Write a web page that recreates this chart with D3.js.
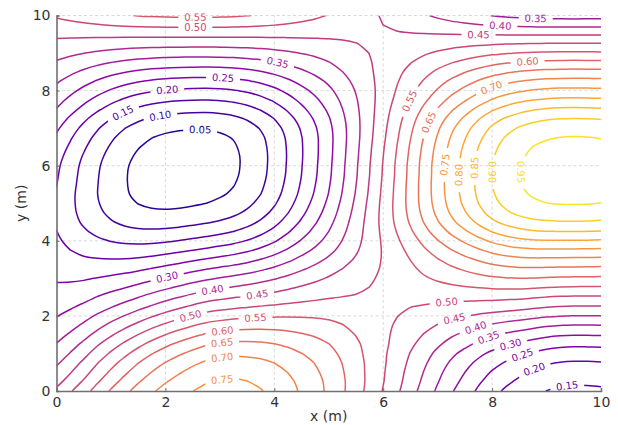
<!DOCTYPE html>
<html>
<head>
<meta charset="UTF-8">
<title>Contour map</title>
<script src="https://d3js.org/d3.v7.min.js"></script>
<style>
  body { margin: 0; background: #fff; }
  text { font-family: "DejaVu Sans", sans-serif; }
</style>
</head>
<body>
<script>
// sample positions (m), 0.25 m apart
var xValues = [0, 0.25, 0.5, 0.75, 1, 1.25, 1.5, 1.75, 2, 2.25, 2.5, 2.75, 3, 3.25, 3.5, 3.75, 4, 4.25, 4.5, 4.75,
               5, 5.25, 5.5, 5.75, 6, 6.25, 6.5, 6.75, 7, 7.25, 7.5, 7.75, 8, 8.25, 8.5, 8.75, 9, 9.25, 9.5, 9.75, 10];
var yValues = xValues.slice();

// field, kept as profiles:
// z = 0.5 + yOffset + xProfile * yProfile + xSkew * ySkew
var xProfile = [-0.291, -0.328, -0.363, -0.395, -0.423, -0.446, -0.463, -0.474, -0.480, -0.482, -0.481,
                -0.478, -0.471, -0.460, -0.442, -0.417, -0.385, -0.346, -0.303, -0.259, -0.212,
                -0.160, -0.107, -0.052, 0.003, 0.058, 0.114, 0.170, 0.224, 0.275, 0.320,
                0.363, 0.401, 0.429, 0.450, 0.464, 0.472, 0.476, 0.477, 0.476, 0.473];
var yProfile = [-0.639, -0.606, -0.568, -0.522, -0.462, -0.388, -0.303, -0.211, -0.111, -0.013, 0.080,
                0.177, 0.271, 0.365, 0.463, 0.565, 0.665, 0.760, 0.843, 0.905, 0.948,
                0.975, 0.989, 0.995, 0.997, 0.991, 0.978, 0.956, 0.919, 0.860, 0.780,
                0.690, 0.599, 0.505, 0.406, 0.302, 0.196, 0.089, -0.020, -0.132, -0.240];
var yOffset = [-0.055, -0.055, -0.056, -0.056, -0.056, -0.054, -0.053, -0.051, -0.048, -0.046, -0.044,
               -0.040, -0.037, -0.035, -0.032, -0.027, -0.020, -0.012, -0.005, -0.001, 0.001,
               0.001, 0.001, 0.000, 0.000, -0.001, -0.002, -0.004, -0.006, -0.009, -0.013,
               -0.018, -0.022, -0.025, -0.028, -0.032, -0.036, -0.040, -0.045, -0.051, -0.056];
var xSkew = [-0.171, -0.160, -0.146, -0.128, -0.110, -0.092, -0.073, -0.054, -0.036, -0.019, -0.003,
             0.011, 0.021, 0.029, 0.035, 0.041, 0.046, 0.051, 0.055, 0.058, 0.060,
             0.060, 0.058, 0.056, 0.054, 0.051, 0.047, 0.044, 0.040, 0.036, 0.033,
             0.029, 0.026, 0.022, 0.018, 0.012, 0.006, 0.002, 0, 0, 0];
var ySkew = [1.0, 1.09, 1.15, 1.19, 1.21, 1.21, 1.19, 1.15, 1.09, 1.03, 0.96,
             0.89, 0.815, 0.73, 0.64, 0.545, 0.46, 0.385, 0.315, 0.245, 0.18,
             0.12, 0.07, 0.03, 0, -0.045, -0.095, -0.145, -0.185, -0.21, -0.22,
             -0.21, -0.19, -0.16, -0.125, -0.09, -0.055, -0.02, 0.005, 0.025, 0.045];

var levels = [0.05, 0.10, 0.15, 0.20, 0.25, 0.30, 0.35, 0.40, 0.45, 0.50,
              0.55, 0.60, 0.65, 0.70, 0.75, 0.80, 0.85, 0.90, 0.95];
var tickValues = [0, 2, 4, 6, 8, 10];

// where the inline labels sit: [level, x, y]
var labelSpots = [
    [0.05, 2.64, 7.0], [0.10, 1.90, 7.38], [0.15, 1.22, 7.40], [0.20, 2.03, 8.10],
    [0.25, 3.06, 8.39], [0.35, 4.07, 8.81], [0.30, 2.03, 3.04], [0.40, 2.86, 2.74],
    [0.45, 3.67, 2.74], [0.50, 2.45, 2.05], [0.55, 3.65, 2.08], [0.60, 3.04, 1.68],
    [0.65, 3.04, 1.30], [0.70, 3.04, 0.91], [0.75, 3.04, 0.32],
    [0.55, 2.55, 9.96], [0.50, 2.55, 9.69],
    [0.55, 6.44, 7.75], [0.60, 8.65, 8.81], [0.65, 6.83, 7.16], [0.70, 7.97, 8.15],
    [0.75, 7.14, 6.02], [0.80, 7.42, 5.75], [0.85, 7.66, 5.94], [0.90, 8.03, 5.83],
    [0.95, 8.49, 5.83],
    [0.45, 7.75, 9.48], [0.40, 8.15, 9.72], [0.35, 8.80, 9.91],
    [0.50, 7.18, 2.08], [0.45, 7.35, 1.62], [0.40, 7.75, 1.46], [0.35, 7.99, 1.20],
    [0.30, 8.37, 1.07], [0.25, 8.60, 0.77], [0.20, 8.80, 0.48], [0.15, 9.38, 0.11]
];

var width = 618, height = 425;
var margin = { left: 56.5, right: 17, top: 15.5, bottom: 34 };

var x = d3.scaleLinear().domain([0, 10]).range([margin.left, width - margin.right]);
var y = d3.scaleLinear().domain([0, 10]).range([height - margin.bottom, margin.top]);
var color = d3.scaleSequential(d3.interpolatePlasma).domain([0, 1]);

var svg = d3.select("body").append("svg")
    .attr("width", width)
    .attr("height", height)
    .style("background", "#fff");

// grid
var grid = svg.append("g").attr("class", "grid");
grid.selectAll(".gx").data(tickValues.slice(1, -1)).enter().append("line")
    .attr("x1", function (d) { return x(d); }).attr("x2", function (d) { return x(d); })
    .attr("y1", y(0)).attr("y2", y(10));
grid.selectAll(".gy").data(tickValues.slice(1)).enter().append("line")
    .attr("x1", x(0)).attr("x2", x(10))
    .attr("y1", function (d) { return y(d); }).attr("y2", function (d) { return y(d); });
grid.selectAll("line")
    .attr("stroke", "#cfcfcf")
    .attr("stroke-width", 0.8)
    .attr("stroke-dasharray", "3,2.5");

// value table for d3.contours (row 0 = first y value)
var nx = xValues.length, ny = yValues.length;
var step = xValues[1] - xValues[0];
var values = new Array(nx * ny);
for (var j = 0; j < ny; j++) {
    for (var i = 0; i < nx; i++) {
        values[j * nx + i] = 0.5 + yOffset[j] + xProfile[i] * yProfile[j] + xSkew[i] * ySkew[j];
    }
}

var contours = d3.contours().size([nx, ny]).smooth(false).thresholds(levels)(values);

// linear placement of the crossing points (samples sit at cell centres)
function place(pt, level) {
    var gx = pt[0], gy = pt[1];
    var xt = Math.floor(gx), yt = Math.floor(gy);
    if (gx === xt && gx > 0 && gx < nx && gy !== yt) {
        var v0 = values[yt * nx + xt - 1], v1 = values[yt * nx + xt];
        gx = xt - 0.5 + (level - v0) / (v1 - v0);
    } else if (gy === yt && gy > 0 && gy < ny && gx !== xt) {
        var w0 = values[(yt - 1) * nx + xt], w1 = values[yt * nx + xt];
        gy = yt - 0.5 + (level - w0) / (w1 - w0);
    } else {
        return null; // frame of the padded grid
    }
    return [xValues[0] + (gx - 0.5) * step, yValues[0] + (gy - 0.5) * step];
}

// rings -> open / closed runs inside the data area
var runs = [];
contours.forEach(function (c) {
    c.coordinates.forEach(function (poly) {
        poly.forEach(function (ring) {
            var pts = ring.slice(0, ring.length - 1).map(function (p) { return place(p, c.value); });
            var n = pts.length;
            var cut = pts.findIndex(function (p) { return p === null; });
            if (cut < 0) {
                runs.push({ level: c.value, pts: pts, closed: true });
                return;
            }
            var cur = [];
            for (var k = 1; k <= n; k++) {
                var p = pts[(cut + k) % n];
                if (p === null) {
                    if (cur.length > 1) runs.push({ level: c.value, pts: cur, closed: false });
                    cur = [];
                } else {
                    cur.push(p);
                }
            }
            if (cur.length > 1) runs.push({ level: c.value, pts: cur, closed: false });
        });
    });
});

// labels: snap each spot to its contour and follow the line direction
var labels = [];
labelSpots.forEach(function (s) {
    var tx = x(s[1]), ty = y(s[2]);
    var best = null;
    runs.forEach(function (r) {
        if (Math.abs(r.level - s[0]) > 1e-6) return;
        var P = r.pts.map(function (p) { return [x(p[0]), y(p[1])]; });
        var m = r.closed ? P.length : P.length - 1;
        for (var k = 0; k < m; k++) {
            var a = P[k], b = P[(k + 1) % P.length];
            var dx = b[0] - a[0], dy = b[1] - a[1];
            var L = dx * dx + dy * dy;
            var t = L > 0 ? ((tx - a[0]) * dx + (ty - a[1]) * dy) / L : 0;
            t = Math.max(0, Math.min(1, t));
            var px = a[0] + t * dx, py = a[1] + t * dy;
            var d = (px - tx) * (px - tx) + (py - ty) * (py - ty);
            if (!best || d < best.d) best = { d: d, x: px, y: py, ang: Math.atan2(dy, dx) * 180 / Math.PI };
        }
    });
    if (!best) return;
    var ang = best.ang;
    if (ang > 90) ang -= 180;
    if (ang <= -90) ang += 180;
    labels.push({ level: s[0], x: best.x, y: best.y, ang: ang, text: d3.format(".2f")(s[0]) });
});

// clip to the axes box, mask out gaps under the labels
var defs = svg.append("defs");
defs.append("clipPath").attr("id", "plot-clip").append("rect")
    .attr("x", x(0)).attr("y", y(10))
    .attr("width", x(10) - x(0)).attr("height", y(0) - y(10));
var mask = defs.append("mask").attr("id", "label-gaps")
    .attr("maskUnits", "userSpaceOnUse")
    .attr("x", 0).attr("y", 0).attr("width", width).attr("height", height);
mask.append("rect").attr("width", width).attr("height", height).attr("fill", "#fff");
mask.selectAll(".gap").data(labels).enter().append("rect")
    .attr("x", -17).attr("y", -5).attr("width", 34).attr("height", 10)
    .attr("fill", "#000")
    .attr("transform", function (d) { return "translate(" + d.x + "," + d.y + ") rotate(" + d.ang + ")"; });

var line = d3.line()
    .x(function (d) { return x(d[0]); })
    .y(function (d) { return y(d[1]); });

var lines = svg.append("g")
    .attr("clip-path", "url(#plot-clip)")
    .append("g")
    .attr("mask", "url(#label-gaps)");
lines.selectAll("path").data(runs).enter().append("path")
    .attr("fill", "none")
    .attr("stroke", function (d) { return color(d.level); })
    .attr("stroke-width", 1.5)
    .attr("stroke-linejoin", "round")
    .attr("d", function (d) {
        return line.curve(d.closed ? d3.curveCatmullRomClosed.alpha(0.5) : d3.curveCatmullRom.alpha(0.5))(d.pts);
    });

svg.append("g").selectAll("text").data(labels).enter().append("text")
    .attr("transform", function (d) { return "translate(" + d.x + "," + d.y + ") rotate(" + d.ang + ")"; })
    .attr("text-anchor", "middle")
    .attr("dy", "0.35em")
    .attr("font-size", "10px")
    .attr("fill", function (d) { return color(d.level); })
    .text(function (d) { return d.text; });

// axes
var xAxis = d3.axisBottom(x).tickValues(tickValues).tickSize(-3).tickPadding(6).tickFormat(d3.format("d"));
var yAxis = d3.axisLeft(y).tickValues(tickValues).tickSize(-3).tickPadding(6).tickFormat(d3.format("d"));

var gx = svg.append("g").attr("transform", "translate(0," + y(0) + ")").call(xAxis);
var gy = svg.append("g").attr("transform", "translate(" + x(0) + ",0)").call(yAxis);
[gx, gy].forEach(function (g) {
    g.select(".domain").attr("stroke", "#707070").attr("stroke-width", 1.6);
    g.selectAll(".tick line").attr("stroke", "#707070").attr("stroke-width", 1);
    g.selectAll(".tick text").attr("fill", "#333").attr("font-size", "14px")
        .attr("font-family", "DejaVu Sans, sans-serif");
});

svg.append("text")
    .attr("x", (x(0) + x(10)) / 2)
    .attr("y", 421)
    .attr("text-anchor", "middle")
    .attr("font-size", "14px")
    .attr("fill", "#333")
    .text("x (m)");

svg.append("text")
    .attr("transform", "translate(26," + ((y(0) + y(10)) / 2) + ") rotate(-90)")
    .attr("text-anchor", "middle")
    .attr("font-size", "14px")
    .attr("fill", "#333")
    .text("y (m)");
</script>
</body>
</html>
